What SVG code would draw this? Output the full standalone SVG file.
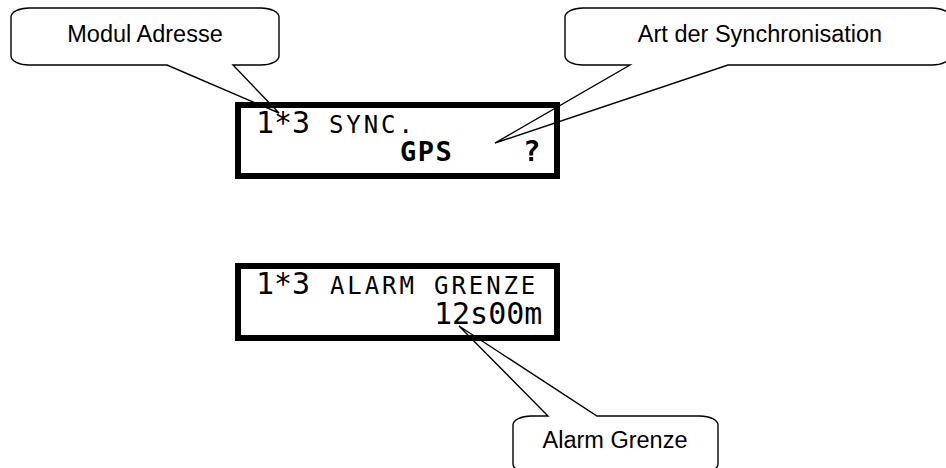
<svg xmlns="http://www.w3.org/2000/svg" width="946" height="468" viewBox="0 0 946 468">
  <style>
    .callout { fill: #ffffff; stroke: #000000; stroke-width: 1.4; stroke-linejoin: miter; }
    .label { font-family: "Liberation Sans", Arial, sans-serif; font-size: 23.5px; fill: #000000; text-anchor: middle; }
    .lcd { fill: none; stroke: #000000; stroke-width: 6; }
    .big { font-family: "DejaVu Sans Mono", monospace; font-size: 30px; fill: #000000; }
    .small { font-family: "DejaVu Sans Mono", monospace; font-size: 24px; letter-spacing: 2.9px; fill: #000000; }
    .bold { font-family: "DejaVu Sans Mono", monospace; font-size: 27px; font-weight: bold; letter-spacing: 1.5px; fill: #000000; }
    .mark { font-family: "DejaVu Sans Mono", monospace; font-size: 29px; font-weight: bold; fill: #000000; }
  </style>

  <!-- callouts with pointer wedges -->
  <g id="connectors">
    <g id="callout-modul">
      <path class="callout" d="M 29 8 H 261 A 18 9 0 0 1 279 17 V 56 A 18 9 0 0 1 261 65 H 233 L 279 113 L 167 65 H 29 A 18 9 0 0 1 11 56 V 17 A 18 9 0 0 1 29 8 Z"/>
      <text class="label" x="145" y="42">Modul Adresse</text>
    </g>
    <g id="callout-sync">
      <path class="callout" d="M 583 8 H 932 A 18 9 0 0 1 950 17 V 56 A 18 9 0 0 1 932 65 H 728 L 495 143 L 630 65 H 583 A 18 9 0 0 1 565 56 V 17 A 18 9 0 0 1 583 8 Z"/>
      <text class="label" x="760" y="42">Art der Synchronisation</text>
    </g>
    <g id="callout-alarm">
      <path class="callout" d="M 531 416 H 548 L 459 326 L 597 416 H 700 A 18 9 0 0 1 718 425 V 464 A 18 9 0 0 1 700 473 H 531 A 18 9 0 0 1 513 464 V 425 A 18 9 0 0 1 531 416 Z"/>
      <text class="label" x="615" y="448">Alarm Grenze</text>
    </g>
  </g>

  <!-- LCD display: synchronisation -->
  <g id="display-sync">
    <rect class="lcd" x="238" y="105" width="319" height="71"/>
    <text class="big" x="256" y="133">1*3</text>
    <text class="small" x="329" y="133">SYNC.</text>
    <text class="bold" x="400" y="161">GPS</text>
    <text class="mark" x="523" y="161">?</text>
  </g>

  <!-- LCD display: alarm limit -->
  <g id="display-alarm">
    <rect class="lcd" x="238" y="266" width="319" height="72"/>
    <text class="big" x="256" y="294">1*3</text>
    <text class="small" x="330" y="294">ALARM GRENZE</text>
    <text class="big" x="434" y="324">12s00m</text>
  </g>
</svg>
